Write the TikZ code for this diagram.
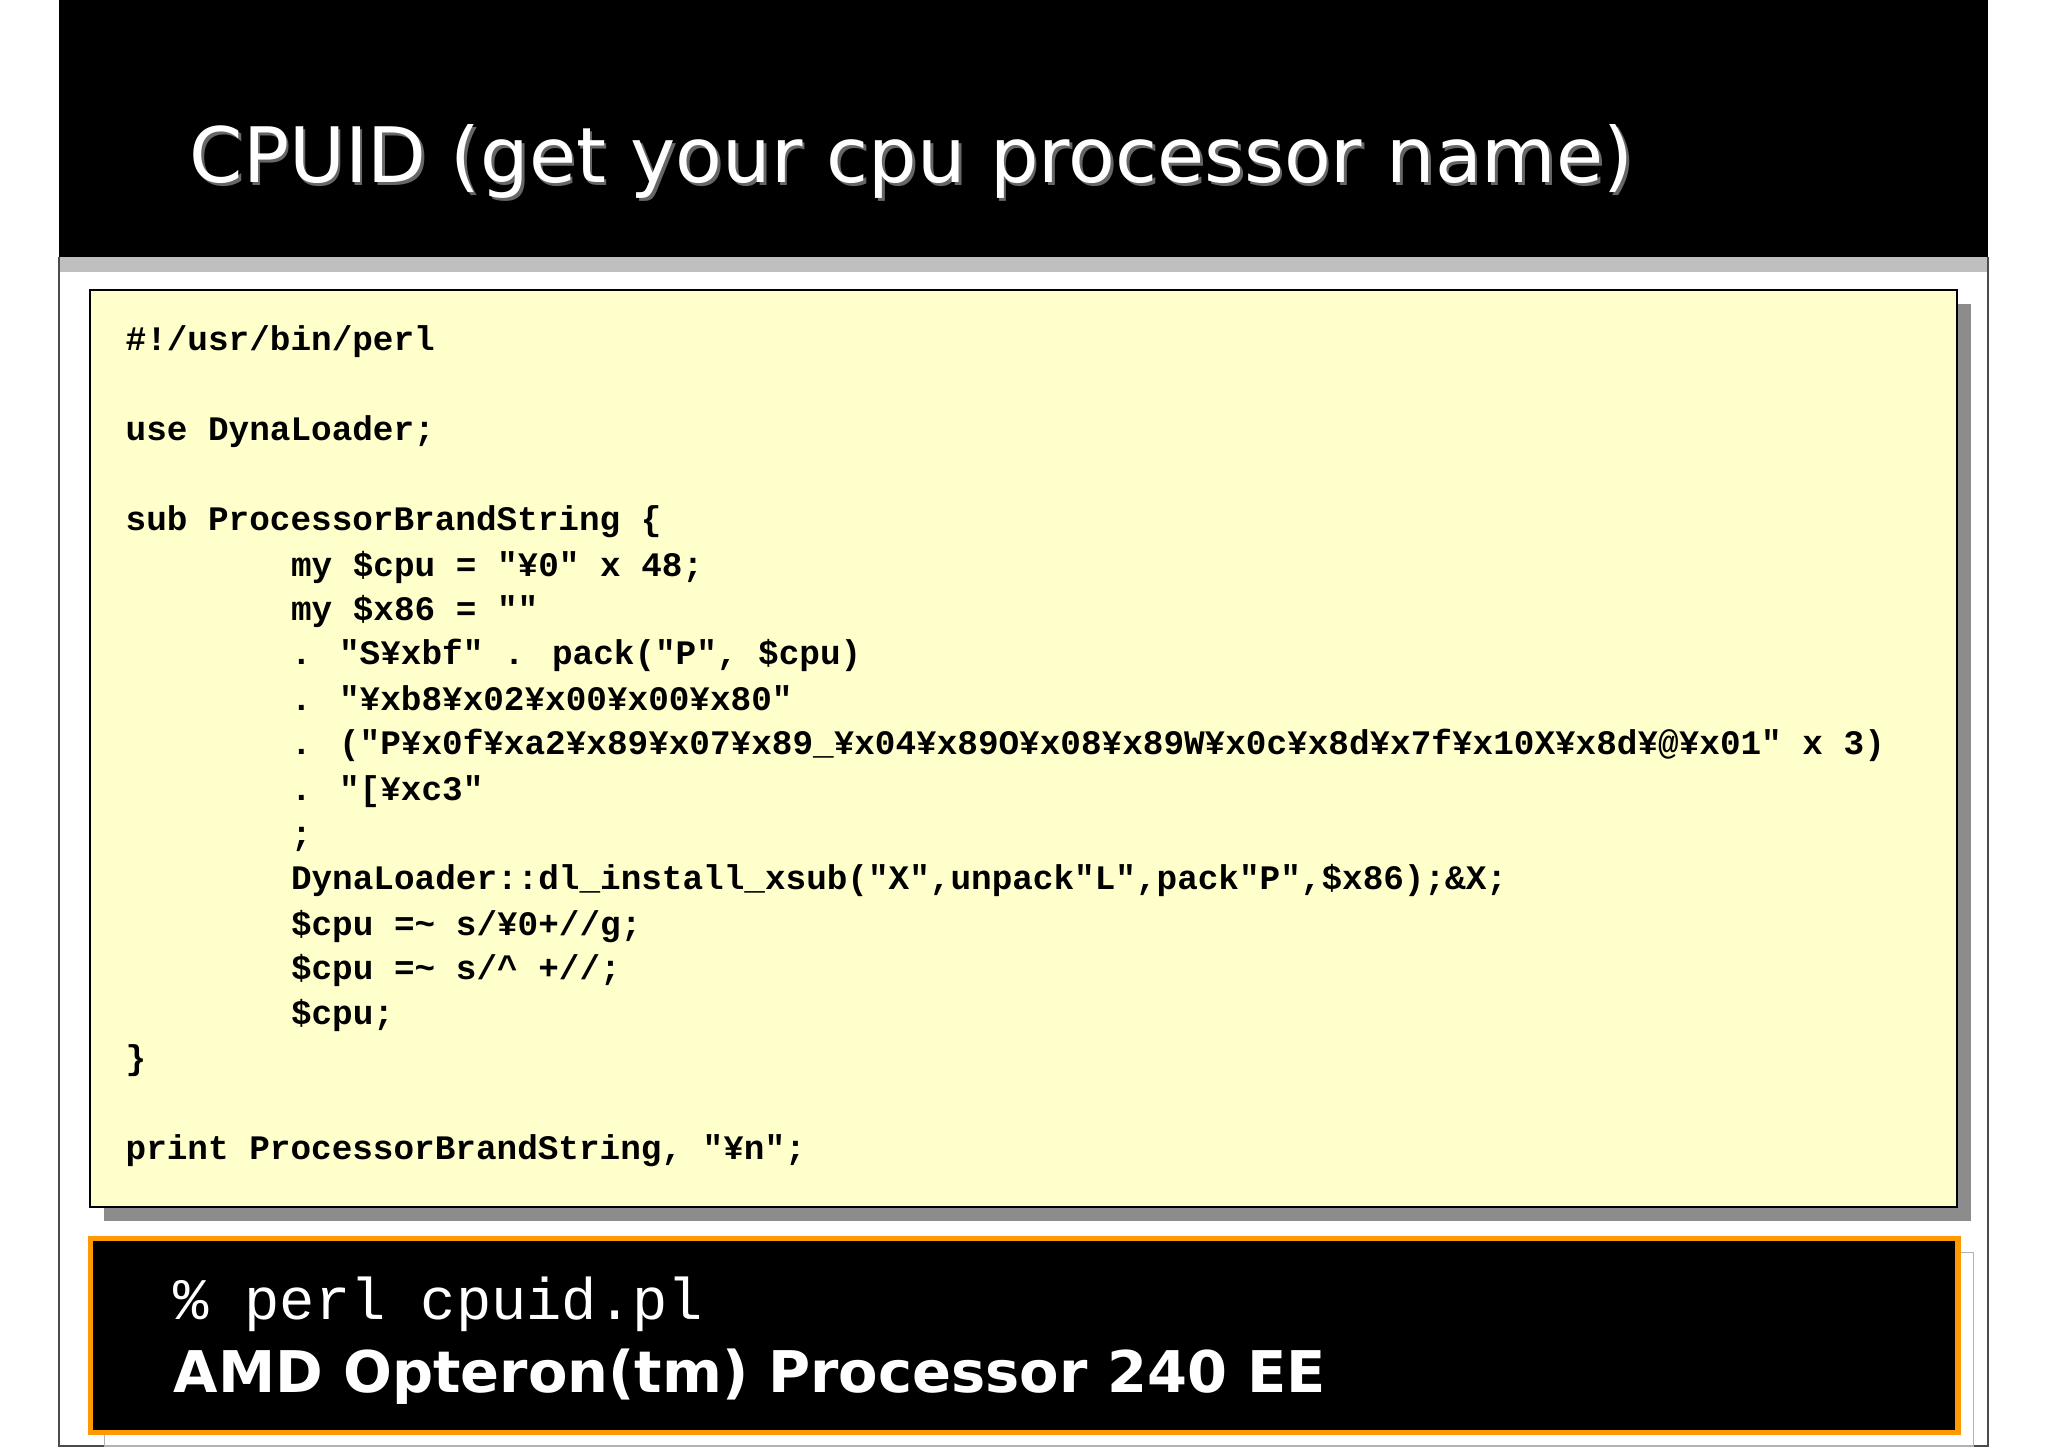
\documentclass[tikz,border=0pt]{standalone}
\usepackage{fontspec}
\setmainfont{DejaVu Sans}
\newfontfamily\codefont{Liberation Mono}
\newfontfamily\titlefont{DejaVu Sans}
\usepackage{graphicx}
\definecolor{codebg}{HTML}{FFFFCC}
\definecolor{orng}{HTML}{FF9900}
\begin{document}
\begin{tikzpicture}[x=1pt,y=-1pt,
  cl/.style={anchor=base west,inner sep=0pt,font=\codefont\bfseries\fontsize{26.3}{30}\selectfont}]
\useasboundingbox (0,0) rectangle (1568,1108.6);
\fill[white] (0,0) rectangle (1568,1108.6);
% slide frame
\fill[black] (45,0) rectangle (1522,197);
\fill[black!25] (45,197) rectangle (1522,208);
\draw[black!70,line width=1.2] (45,197) -- (45,1107) -- (1522,1107) -- (1522,197);
% title with shadow
\node[anchor=base west,inner sep=0pt,text=white] (title) at (145,140) {\resizebox{1105pt}{!}{\titlefont\rlap{\kern0.35pt\raisebox{-0.35pt}{\textcolor{black!60}{CPUID (get your cpu processor name)}}}CPUID (get your cpu processor name)}};
% code box
\fill[black!45] (80,233) rectangle (1509,935);
\draw[fill=codebg,line width=1.5] (69,222) rectangle (1498,924);
\node[cl] (l1) at (96,268) {\#!/usr/bin/perl};
\node[cl] at (96,337) {use DynaLoader;};
\node[cl] at (96,406) {sub ProcessorBrandString \{};
\node[cl] at (222.6,441) {my \$cpu = "¥0" x 48;};
\node[cl] at (222.6,475) {my \$x86 = ""};
\node[cl] at (222.6,509) {. "S¥xbf" . pack("P", \$cpu)};
\node[cl] at (222.6,544) {. "¥xb8¥x02¥x00¥x00¥x80"};
\node[cl] at (222.6,578) {. ("P¥x0f¥xa2¥x89¥x07¥x89\_¥x04¥x89O¥x08¥x89W¥x0c¥x8d¥x7f¥x10X¥x8d¥@¥x01" x 3)};
\node[cl] at (222.6,613) {. "[¥xc3"};
\node[cl] at (222.6,647) {;};
\node[cl] at (222.6,681) {DynaLoader::dl\_install\_xsub("X",unpack"L",pack"P",\$x86);\&X;};
\node[cl] at (222.6,716) {\$cpu =\textasciitilde{} s/¥0+//g;};
\node[cl] at (222.6,750) {\$cpu =\textasciitilde{} s/\textasciicircum{} +//;};
\node[cl] at (222.6,784) {\$cpu;};
\node[cl] at (96,819) {\}};
\node[cl] at (96,888) {print ProcessorBrandString, "¥n";};
% output box
\draw[black!30,fill=white,line width=1.2] (80,959) rectangle (1511,1107);
\draw[fill=black,draw=orng,line width=4] (69,948) rectangle (1499,1097);
\node[anchor=base west,inner sep=0pt,text=white,font=\codefont\fontsize{45}{50}\selectfont] (cmd) at (133,1010) {\% perl cpuid.pl};
\node[anchor=base west,inner sep=0pt,text=white,font=\bfseries\fontsize{50}{56}\selectfont] (out) at (133,1066) {\resizebox{882pt}{!}{AMD Opteron(tm) Processor 240 EE}};
\end{tikzpicture}
\end{document}
